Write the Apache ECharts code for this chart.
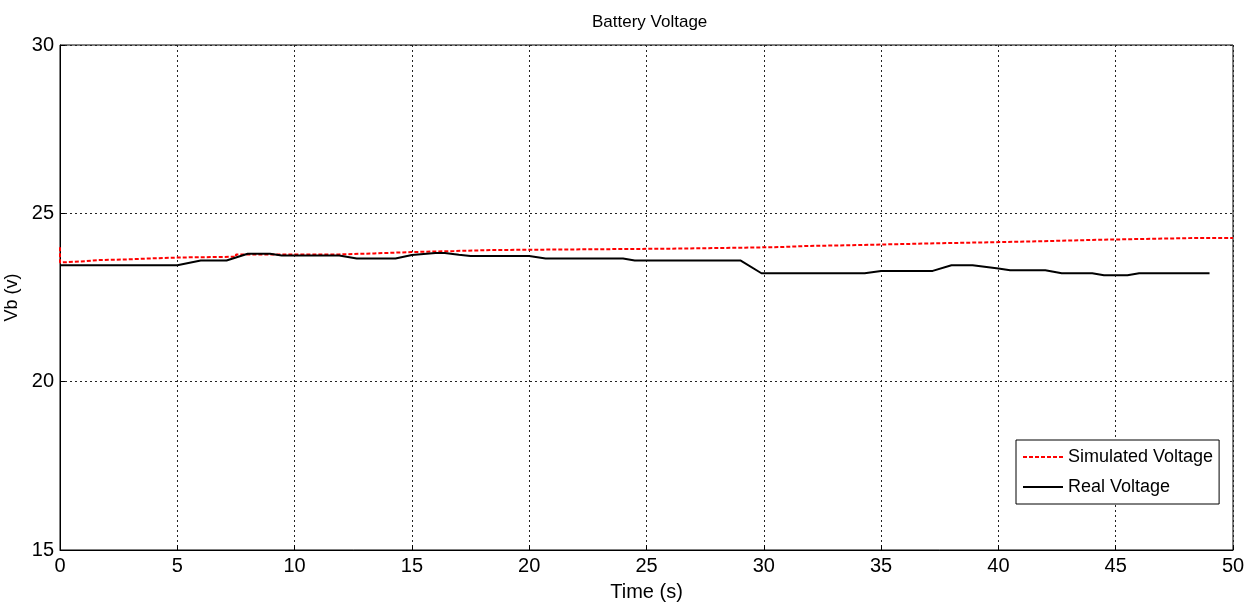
<!DOCTYPE html>
<html>
<head>
<meta charset="utf-8">
<script src="https://cdn.jsdelivr.net/npm/echarts@6/dist/echarts.min.js"></script>
<style>
  html, body { margin: 0; padding: 0; background: #fff; }
  #chart { width: 1251px; height: 607px; }
</style>
</head>
<body>
<div id="chart"></div>
<script>
// tick labels
var xTicks = [0, 5, 10, 15, 20, 25, 30, 35, 40, 45, 50];
var yTicks = [15, 20, 25, 30];

// simulated voltage (step changes)
var simT = [0, 0.05, 1.1, 1.6, 2.8, 3.8, 5.2, 7.5, 11.9, 13.4, 15.0, 16.8, 18.4, 26.0, 29.2, 30.8, 31.8, 33.5, 35.4, 37.4, 39.6, 41.7, 44.0, 46.2, 48.6, 50];
var simV = [23.99, 23.54, 23.58, 23.61, 23.63, 23.66, 23.69, 23.71, 23.78, 23.81, 23.85, 23.88, 23.91, 23.95, 23.98, 24.0, 24.03, 24.05, 24.08, 24.11, 24.14, 24.17, 24.21, 24.24, 24.27, 24.27];

// real voltage
var realT = [0, 5.0, 6.0, 7.1, 8.0, 8.95, 9.45, 11.9, 12.65, 14.3, 15.0, 16.0, 16.4, 17.0, 17.5, 20.0, 20.7, 24.0, 24.5, 29.0, 29.9, 34.3, 35.0, 37.2, 38.0, 38.9, 40.0, 40.5, 42.0, 42.7, 44.0, 44.5, 45.5, 46.0, 49.0];
var realV = [23.46, 23.46, 23.60, 23.60, 23.80, 23.80, 23.75, 23.75, 23.66, 23.66, 23.76, 23.82, 23.82, 23.77, 23.73, 23.73, 23.66, 23.66, 23.60, 23.60, 23.22, 23.22, 23.29, 23.29, 23.46, 23.46, 23.36, 23.31, 23.31, 23.22, 23.22, 23.16, 23.16, 23.22, 23.22];

var simData = simT.map(function (t, i) { return [t, simV[i]]; });
var realData = realT.map(function (t, i) { return [t, realV[i]]; });

var font = '"Liberation Sans Narrow", "Liberation Sans", Arial, sans-serif';
var gridLine = { show: true, lineStyle: { color: '#222', type: [2, 3], width: 1 } };

var option = {
  animation: false,
  backgroundColor: '#fff',
  title: {
    text: 'Battery Voltage',
    left: 587,
    top: 9,
    textStyle: { fontFamily: font, fontSize: 17, fontWeight: 'normal', color: '#000' }
  },
  legend: {
    orient: 'vertical',
    left: 1016,
    top: 440,
    padding: [8, 6, 8, 6],
    itemGap: 12,
    itemWidth: 40,
    itemHeight: 12,
    borderColor: '#000',
    borderWidth: 1,
    backgroundColor: '#fff',
    itemStyle: { opacity: 0 },
    textStyle: { fontFamily: font, fontSize: 18, color: '#000' },
    data: ['Simulated Voltage', 'Real Voltage']
  },
  grid: {
    left: 60,
    right: 18,
    top: 45,
    bottom: 57,
    outerBoundsMode: 'none',
    show: true,
    borderColor: '#000',
    borderWidth: 1
  },
  xAxis: {
    type: 'value',
    min: 0,
    max: 50,
    interval: 5,
    name: 'Time (s)',
    nameLocation: 'middle',
    nameGap: 32,
    nameTextStyle: { fontFamily: font, fontSize: 20, color: '#000' },
    axisLine: { show: true, lineStyle: { color: '#000' } },
    axisTick: { show: true, inside: true, length: 5, lineStyle: { color: '#000' } },
    axisLabel: { fontFamily: font, fontSize: 20, color: '#000', margin: 6 },
    splitLine: gridLine
  },
  yAxis: {
    type: 'value',
    min: 15,
    max: 30,
    interval: 5,
    name: 'Vb (v)',
    nameLocation: 'middle',
    nameGap: 34,
    nameTextStyle: { fontFamily: font, fontSize: 18, color: '#000' },
    axisLine: { show: true, lineStyle: { color: '#000' } },
    axisTick: { show: true, inside: true, length: 5, lineStyle: { color: '#000' } },
    axisLabel: { fontFamily: font, fontSize: 20, color: '#000', margin: 6 },
    splitLine: gridLine
  },
  series: [
    {
      name: 'Simulated Voltage',
      type: 'line',
      step: 'start',
      symbol: 'none',
      data: simData,
      itemStyle: { color: '#ff0000' },
      lineStyle: { color: '#ff0000', width: 2, type: [4, 2] },
      z: 2
    },
    {
      name: 'Real Voltage',
      type: 'line',
      symbol: 'none',
      data: realData,
      itemStyle: { color: '#000' },
      lineStyle: { color: '#000', width: 2 },
      z: 3
    }
  ]
};

var myChart = echarts.init(document.getElementById('chart'));
myChart.setOption(option);
</script>
</body>
</html>
